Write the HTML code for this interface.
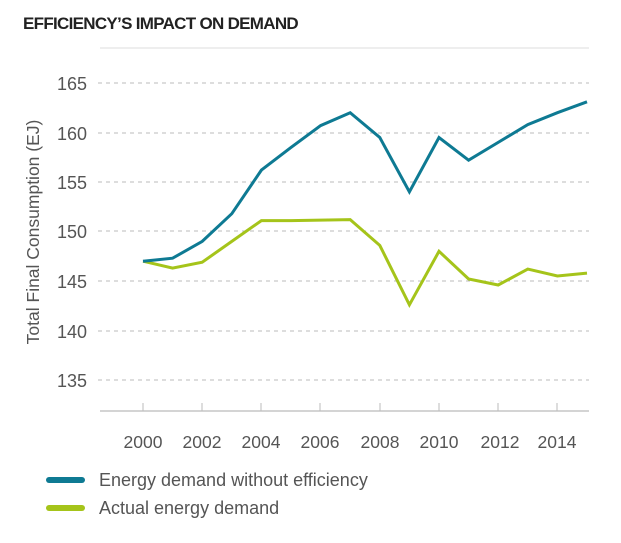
<!DOCTYPE html>
<html><head><style>
body{margin:0;background:#fff;width:621px;height:538px;overflow:hidden;font-family:"Liberation Sans",sans-serif}
</style></head><body>
<svg width="621" height="538" xmlns="http://www.w3.org/2000/svg" font-family="Liberation Sans, sans-serif">
<text x="23" y="29" font-size="17" font-weight="bold" fill="#222" letter-spacing="-0.7">EFFICIENCY’S IMPACT ON DEMAND</text>
<line x1="100" y1="48" x2="589" y2="48" stroke="#ddd" stroke-width="1"/>
<g stroke="#bbb" stroke-dasharray="4,4" stroke-width="1">
<line x1="98" y1="83" x2="589" y2="83"/>
<line x1="98" y1="133" x2="589" y2="133"/>
<line x1="98" y1="182" x2="589" y2="182"/>
<line x1="98" y1="231" x2="589" y2="231"/>
<line x1="98" y1="281" x2="589" y2="281"/>
<line x1="98" y1="331" x2="589" y2="331"/>
<line x1="98" y1="380" x2="589" y2="380"/>
</g>
<g font-size="18" fill="#555" text-anchor="end">
<text x="87" y="90">165</text><text x="87" y="140">160</text><text x="87" y="189">155</text>
<text x="87" y="238">150</text><text x="87" y="288">145</text><text x="87" y="338">140</text><text x="87" y="387">135</text>
</g>
<text transform="translate(39,232) rotate(-90)" font-size="17.5" fill="#555" text-anchor="middle">Total Final Consumption (EJ)</text>
<line x1="100" y1="411" x2="589" y2="411" stroke="#bbb" stroke-width="1.2"/>
<g stroke="#bbb" stroke-width="1">
<line x1="143" y1="403" x2="143" y2="411"/><line x1="202" y1="403" x2="202" y2="411"/>
<line x1="261" y1="403" x2="261" y2="411"/><line x1="320" y1="403" x2="320" y2="411"/>
<line x1="380" y1="403" x2="380" y2="411"/><line x1="439" y1="403" x2="439" y2="411"/>
<line x1="498" y1="403" x2="498" y2="411"/><line x1="557" y1="403" x2="557" y2="411"/>
</g>
<g font-size="17.5" fill="#555" text-anchor="middle">
<text x="143" y="448">2000</text><text x="202" y="448">2002</text><text x="261" y="448">2004</text>
<text x="320" y="448">2006</text><text x="380" y="448">2008</text><text x="439" y="448">2010</text>
<text x="500" y="448">2012</text><text x="557" y="448">2014</text>
</g>
<polyline fill="none" stroke="#a5c41a" stroke-width="3" points="143,261.2 172.6,268.1 202.2,262.2 231.8,241.4 261.4,220.6 291,220.6 320.6,220.1 350.2,219.6 379.8,245.4 409.4,304.8 439,251.3 468.6,279 498.2,285 527.8,269.1 557.4,276 587,273.1"/>
<polyline fill="none" stroke="#0e7a93" stroke-width="3" points="143,261.2 172.6,258.2 202.2,241.4 231.8,213.7 261.4,170.1 291,147.4 320.6,125.6 350.2,112.7 379.8,137.5 409.4,191.9 439,137.5 468.6,160.2 498.2,142.4 527.8,124.6 557.4,112.7 587,101.8"/>
<line x1="49" y1="480" x2="82" y2="480" stroke="#0e7a93" stroke-width="6" stroke-linecap="round"/>
<line x1="49" y1="508" x2="82" y2="508" stroke="#a5c41a" stroke-width="6" stroke-linecap="round"/>
<text x="99" y="486" font-size="18" fill="#555">Energy demand without efficiency</text>
<text x="99" y="514" font-size="18" fill="#555">Actual energy demand</text>
</svg>
</body></html>
